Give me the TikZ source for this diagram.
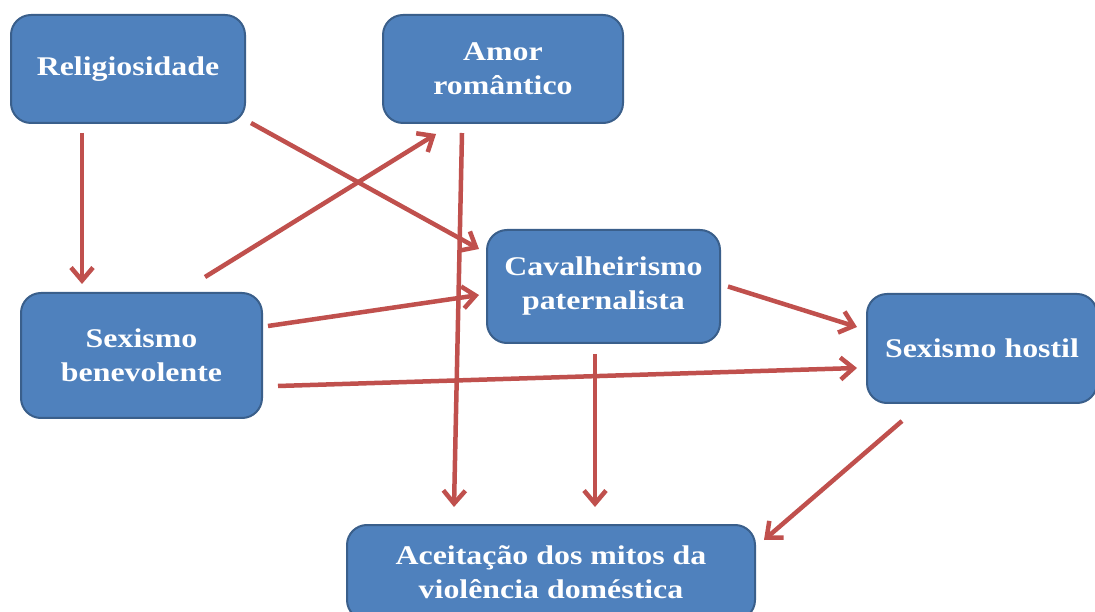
\documentclass[tikz,border=0pt]{standalone}
\usepackage{fontspec}
\setmainfont{Liberation Serif}[FakeStretch=1.18]
\usetikzlibrary{arrows.meta}
\definecolor{boxfill}{HTML}{4F81BD}
\definecolor{boxline}{HTML}{3A5F8B}
\definecolor{arrred}{HTML}{C0504D}
\begin{document}
\begin{tikzpicture}[x=1pt,y=1pt,
  box/.style={draw=boxline, line width=2pt, fill=boxfill, rounded corners=20pt,
    text=white, align=center, inner sep=0pt,
    font=\fontsize{27}{34}\selectfont\bfseries},
  link/.style={draw=arrred, line width=4.5pt, -{Straight Barb[length=13pt,width=22pt]}}]
\useasboundingbox (0,0) rectangle (1095,611);
\clip (0,0) rectangle (1095,611);
\fill[white] (0,0) rectangle (1095,611);
\node[box, minimum width=234pt, minimum height=108pt] (rel) at (128,542) {\raisebox{-2pt}{Religiosidade}};
\node[box, minimum width=240pt, minimum height=108pt] (amor) at (503,542) {Amor\\romântico};
\node[box, minimum width=233pt, minimum height=113pt] (cav) at (603.5,324.5) {Cavalheirismo\\paternalista};
\node[box, minimum width=241pt, minimum height=125pt] (sb) at (141.5,255.5) {Sexismo\\benevolente};
\node[box, minimum width=230pt, minimum height=109pt] (sh) at (982,262.5) {\raisebox{-2pt}{Sexismo hostil}};
\node[box, minimum width=408pt, minimum height=95pt] (ace) at (551,38.5) {Aceitação dos mitos da\\violência doméstica};
\draw[link] ([shift={(-46,-9)}]rel.south) -- ([shift={(-59.5,8)}]sb.north);
\draw[link] ([shift={(5,1)}]rel.south east) -- ([shift={(-7,-20)}]cav.north west);
\draw[link] ([shift={(63.5,15)}]sb.north) -- ([shift={(-67,-10)}]amor.south);
\draw[link] ([shift={(5,29.5)}]sb.east) -- ([shift={(-7,-8.5)}]cav.west);
\draw[link] ([shift={(15,-30.5)}]sb.east) -- ([shift={(-9,-19.5)}]sh.west);
\draw[link] ([shift={(-41,-9)}]amor.south) -- ([shift={(-97,17)}]ace.north);
\draw[link] ([shift={(-8.5,-10)}]cav.south) -- ([shift={(44,17)}]ace.north);
\draw[link] ([shift={(7,0)}]cav.east) -- ([shift={(-9,21.5)}]sh.west);
\draw[link] ([shift={(-80,-17)}]sh.south) -- ([shift={(8,32.5)}]ace.east);
\end{tikzpicture}
\end{document}
